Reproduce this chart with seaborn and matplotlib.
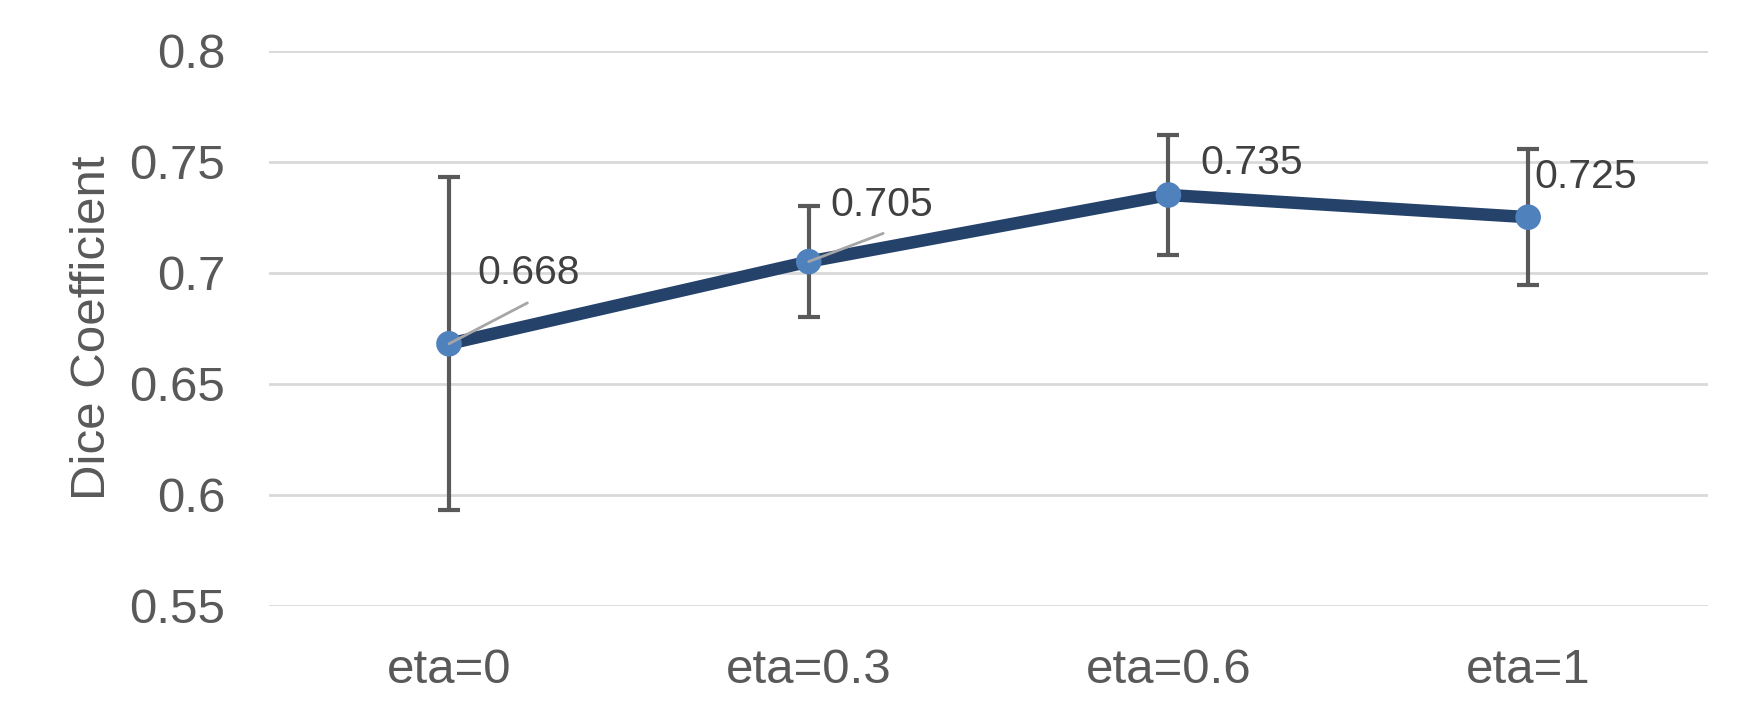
import matplotlib
matplotlib.use("Agg")
import matplotlib.pyplot as plt
import seaborn as sns
import pandas as pd

categories = ["eta=0", "eta=0.3", "eta=0.6", "eta=1"]
dice = [0.668, 0.705, 0.735, 0.725]
err = [0.075, 0.025, 0.027, 0.0305]
labels = ["0.668", "0.705", "0.735", "0.725"]
y_ticks = [0.55, 0.6, 0.65, 0.7, 0.75, 0.8]
y_tick_labels = ["0.55", "0.6", "0.65", "0.7", "0.75", "0.8"]

sns.set_theme(style="white")
plt.rcParams["font.family"] = ["Liberation Sans", "DejaVu Sans"]

fig = plt.figure(figsize=(17.59, 7.23), dpi=100)
ax = fig.add_axes([0.153, 0.162, 0.818, 0.768])

df = pd.DataFrame({"cat": categories, "dice": dice})
pos = list(range(len(categories)))

ax.errorbar(pos, dice, yerr=err, fmt="none", ecolor="#595959",
            elinewidth=3, capsize=7.7, capthick=3, zorder=2)
sns.lineplot(data=df, x="cat", y="dice", ax=ax, color="#25426B",
             linewidth=9, sort=False, zorder=3)
sns.scatterplot(data=df, x="cat", y="dice", ax=ax, color="#4F81BD",
                s=340, edgecolor="none", zorder=4)

text_pos = [(0.078, 0.7), (1.06, 0.7303), (2.089, 0.7495), (3.018, 0.743)]
leaders = [(0.218, 0.6864), (1.207, 0.7177), None, None]
for i, lab in enumerate(labels):
    ax.text(text_pos[i][0], text_pos[i][1], lab, fontsize=29.5,
            color="#404040", ha="left", va="center", zorder=5)
    if leaders[i] is not None:
        ax.plot([pos[i], leaders[i][0]], [dice[i], leaders[i][1]],
                color="#A6A6A6", linewidth=2, zorder=5)

ax.set_xlim(-0.5, 3.5)
ax.set_ylim(0.55, 0.8)
ax.set_yticks(y_ticks)
ax.set_yticklabels(y_tick_labels)
ax.set_xticks(pos)
ax.set_xticklabels(categories)
ax.tick_params(axis="both", length=0, labelsize=35.5, colors="#595959")
ax.tick_params(axis="y", pad=31.5)
ax.tick_params(axis="x", pad=30)
ax.set_xlabel("")
ax.set_ylabel("Dice Coefficient", fontsize=35.5, color="#595959", labelpad=10)
ax.yaxis.grid(True, color="#D9D9D9", linewidth=2)
ax.xaxis.grid(False)
ax.set_axisbelow(True)
for s in ax.spines.values():
    s.set_visible(False)

fig.savefig("out.png", dpi=100, facecolor="white")
